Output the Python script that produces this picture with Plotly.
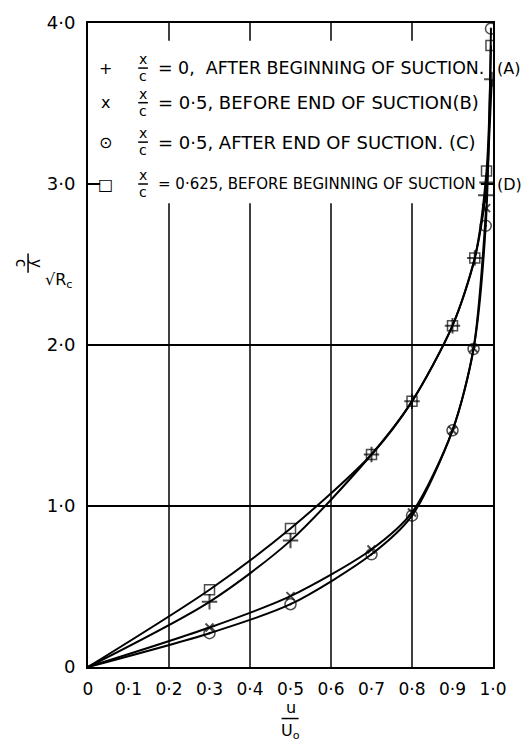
import plotly.graph_objects as go

# ---- data ----
u_A = [0, 0.3, 0.5, 0.7, 0.8, 0.9, 0.955, 0.982, 0.985, 0.997]
y_A = [0, 0.405, 0.785, 1.32, 1.65, 2.12, 2.54, 2.93, 3.01, 3.65]

u_B = [0, 0.3, 0.5, 0.7, 0.8, 0.9, 0.952, 0.983]
y_B = [0, 0.245, 0.44, 0.73, 0.96, 1.47, 1.98, 2.85]

u_C = [0, 0.3, 0.5, 0.7, 0.8, 0.9, 0.952, 0.982, 0.995]
y_C = [0, 0.21, 0.39, 0.70, 0.94, 1.47, 1.975, 2.74, 3.965]

u_D = [0, 0.3, 0.5, 0.7, 0.8, 0.9, 0.955, 0.984, 0.995]
y_D = [0, 0.48, 0.86, 1.32, 1.65, 2.12, 2.54, 3.08, 3.86]

x_tick_vals = [0, 0.1, 0.2, 0.3, 0.4, 0.5, 0.6, 0.7, 0.8, 0.9, 1.0]
x_tick_text = ["0", "0·1", "0·2", "0·3", "0·4", "0·5", "0·6", "0·7", "0·8", "0·9", "1·0"]
y_tick_vals = [0, 1, 2, 3, 4]
y_tick_text = ["0", "1·0", "2·0", "3·0", "4·0"]
x_grid = [0.2, 0.4, 0.6, 0.8]

legend_symbols = ["+", "x", "⊙", "□"]
legend_texts = [
    "= 0,  AFTER BEGINNING OF SUCTION.",
    "= 0·5, BEFORE END OF SUCTION(B)",
    "= 0·5, AFTER END OF SUCTION. (C)",
    "= 0·625, BEFORE BEGINNING OF SUCTION",
]
legend_sizes = [17.4, 18, 18, 15]

FONT = "DejaVu Sans"
BLACK = "black"

fig = go.Figure()

def add_series(u, y, symbol, size, lw):
    sizes = [0] + [size] * (len(u) - 1)  # no marker drawn at the origin
    fig.add_trace(go.Scatter(
        x=u, y=y, mode="lines+markers",
        line=dict(color=BLACK, width=2, shape="spline", smoothing=0.8),
        marker=dict(symbol=symbol, size=sizes, color=BLACK,
                    line=dict(color=BLACK, width=lw)),
        showlegend=False, hoverinfo="skip"))

add_series(u_D, y_D, "square-open", 10, 1.5)
add_series(u_A, y_A, "cross-thin-open", 11, 2)
add_series(u_B, y_B, "x-thin-open", 8, 2)
add_series(u_C, y_C, "circle-open-dot", 11, 1.5)

shapes = []
for gx in x_grid:
    shapes.append(dict(type="line", xref="x", yref="paper", x0=gx, x1=gx, y0=0, y1=1,
                       line=dict(color=BLACK, width=1.5), layer="below"))
# legend background (covers grid lines)
shapes.append(dict(type="rect", xref="x", yref="y", x0=0.03, x1=0.97, y0=2.88, y1=3.89,
                   fillcolor="white", line=dict(width=0), layer="between"))

annotations = []

def txt(x, y, text, size, xref="x", yref="y", **kw):
    d = dict(x=x, y=y, xref=xref, yref=yref, text=text, showarrow=False,
             xanchor=kw.pop("xanchor", "center"), yanchor=kw.pop("yanchor", "middle"),
             font=dict(family=FONT, size=size, color=BLACK))
    d.update(kw)
    annotations.append(d)

row_y = [3.72, 3.505, 3.26, 3.0]
for sym, t, ry, fs in zip(legend_symbols, legend_texts, row_y, legend_sizes):
    txt(0.042, ry, sym, 16)
    # stacked fraction x / c
    txt(0.136, ry, "x", 14, yshift=9)
    txt(0.136, ry, "c", 14, yshift=-8)
    shapes.append(dict(type="line", xref="x", yref="y", x0=0.124, x1=0.148, y0=ry, y1=ry,
                       line=dict(color=BLACK, width=1.5), layer="above"))
    txt(0.168, ry, t, fs, xanchor="left")
txt(1.005, row_y[0], "(A)", 16, xref="paper", xanchor="left")
txt(1.005, row_y[3], "(D)", 16, xref="paper", xanchor="left")

# x-axis title: u over U_o
txt(0.5, 0, "u", 16, xref="paper", yref="paper", yshift=-40)
txt(0.5, 0, "U<sub>o</sub>", 16, xref="paper", yref="paper", yshift=-64)
shapes.append(dict(type="line", xref="paper", yref="paper", x0=0.478, x1=0.52,
                   y0=-0.08, y1=-0.08, line=dict(color=BLACK, width=1.5)))

# y-axis title: (y / c) rotated, then sqrt(R_c)
txt(-0.165, 0.627, "c", 15, xref="paper", yref="paper", textangle=90)
txt(-0.128, 0.627, "y", 15, xref="paper", yref="paper", textangle=90)
shapes.append(dict(type="line", xref="paper", yref="paper", x0=-0.148, x1=-0.148,
                   y0=0.612, y1=0.642, line=dict(color=BLACK, width=1.5)))
txt(-0.072, 0.6, "√R<sub>c</sub>", 16, xref="paper", yref="paper")

fig.update_layout(
    width=523, height=742,
    margin=dict(l=88, r=30, t=15, b=75),
    paper_bgcolor="white", plot_bgcolor="white",
    font=dict(family=FONT, size=16, color=BLACK),
    shapes=shapes, annotations=annotations,
    xaxis=dict(range=[0, 1], tickmode="array", tickvals=x_tick_vals, ticktext=x_tick_text,
               showgrid=False, zeroline=False, showline=True, linecolor=BLACK, linewidth=2,
               mirror=True, ticks="", ticklabelstandoff=6,
               tickfont=dict(family=FONT, size=17, color=BLACK)),
    yaxis=dict(range=[0, 4], tickmode="array", tickvals=y_tick_vals, ticktext=y_tick_text,
               showgrid=True, gridcolor=BLACK, gridwidth=1.5, zeroline=False,
               showline=True, linecolor=BLACK, linewidth=2, mirror=True, ticks="",
               ticklabelstandoff=7, tickfont=dict(family=FONT, size=18, color=BLACK)),
)

fig.write_html("out.html")
